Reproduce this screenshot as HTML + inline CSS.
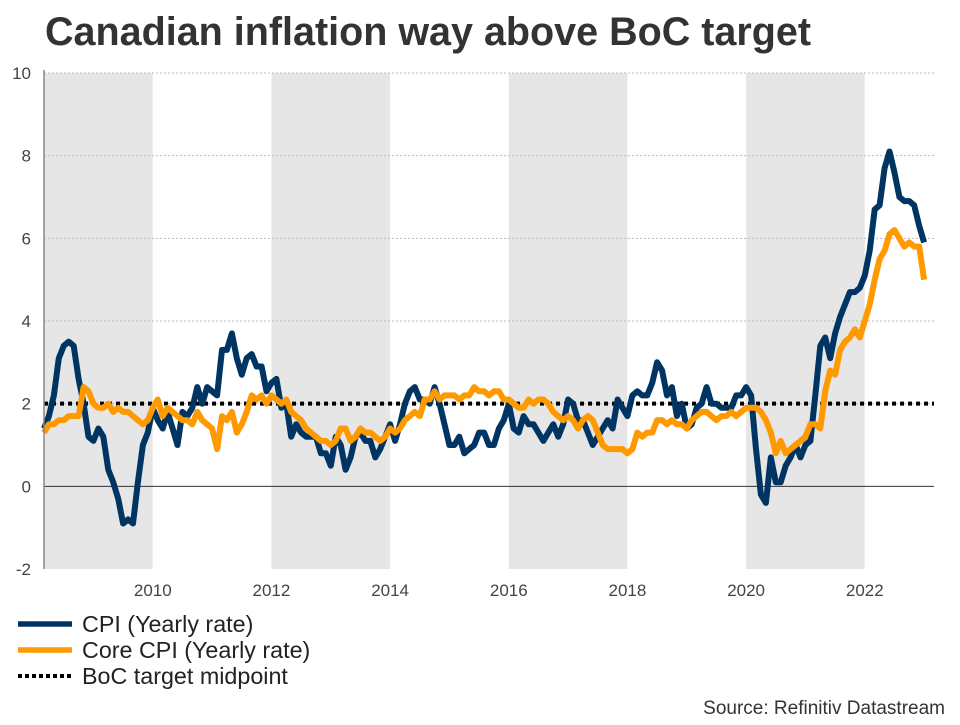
<!DOCTYPE html>
<html><head><meta charset="utf-8"><style>
body{margin:0;background:#fff;font-family:"Liberation Sans",Arial,sans-serif}
svg text{font-family:"Liberation Sans",Arial,sans-serif}
</style></head><body>
<svg id="c" width="960" height="720" viewBox="0 0 960 720" xmlns="http://www.w3.org/2000/svg">
<text x="45" y="45" font-size="39.5" font-weight="bold" fill="#333">Canadian inflation way above BoC target</text>
<g id="bands"></g><g id="grid"></g><g id="series"></g><g id="axes"></g>
<g>
<line x1="18" y1="624" x2="72" y2="624" stroke="#003463" stroke-width="5.5"/>
<text x="82" y="632" font-size="23.3" fill="#222">CPI (Yearly rate)</text>
<line x1="18" y1="650" x2="72" y2="650" stroke="#ff9900" stroke-width="5.5"/>
<text x="82" y="658" font-size="23.3" fill="#222">Core CPI (Yearly rate)</text>
<line x1="18" y1="676" x2="72" y2="676" stroke="#000" stroke-width="4" stroke-dasharray="4,3"/>
<text x="82" y="684" font-size="23.3" fill="#222">BoC target midpoint</text>
</g>
<text x="945" y="714" font-size="19" fill="#333" text-anchor="end">Source: Refinitiv Datastream</text>
</svg>
<script>
const startYear = 2008 + 2/12; // Mar 2008
const cpi = [1.4,1.7,2.2,3.1,3.4,3.5,3.4,2.6,2.0,1.2,
1.1,1.4,1.2,0.4,0.1,-0.3,-0.9,-0.8,-0.9,0.1,1.0,1.3,
1.9,1.6,1.4,1.8,1.4,1.0,1.8,1.7,1.9,2.4,2.0,2.4,
2.3,2.2,3.3,3.3,3.7,3.1,2.7,3.1,3.2,2.9,2.9,2.3,
2.5,2.6,1.9,2.0,1.2,1.5,1.3,1.2,1.2,1.2,0.8,0.8,
0.5,1.2,1.0,0.4,0.7,1.2,1.3,1.1,1.1,0.7,0.9,1.2,
1.5,1.1,1.5,2.0,2.3,2.4,2.1,2.1,2.0,2.4,2.0,1.5,
1.0,1.0,1.2,0.8,0.9,1.0,1.3,1.3,1.0,1.0,1.4,1.6,
2.0,1.4,1.3,1.7,1.5,1.5,1.3,1.1,1.3,1.5,1.2,1.5,
2.1,2.0,1.6,1.6,1.3,1.0,1.2,1.4,1.6,1.4,2.1,1.9,
1.7,2.2,2.3,2.2,2.2,2.5,3.0,2.8,2.2,2.4,1.7,2.0,
1.4,1.5,1.9,2.0,2.4,2.0,2.0,1.9,1.9,1.9,2.2,2.2,
2.4,2.2,0.9,-0.2,-0.4,0.7,0.1,0.1,0.5,0.7,1.0,0.7,
1.0,1.1,2.2,3.4,3.6,3.1,3.7,4.1,4.4,4.7,4.7,4.8,
5.1,5.7,6.7,6.8,7.7,8.1,7.6,7.0,6.9,6.9,6.8,6.3,
5.9];
const core = [1.3,1.5,1.5,1.6,1.6,1.7,1.7,1.7,2.4,2.3,
2.0,1.9,1.9,2.0,1.8,1.9,1.8,1.8,1.7,1.6,1.5,1.6,
1.9,2.1,1.7,1.9,1.8,1.7,1.6,1.6,1.5,1.8,1.6,1.5,
1.4,0.9,1.7,1.6,1.8,1.3,1.5,1.8,2.2,2.1,2.2,2.0,
2.2,2.1,2.0,2.1,1.8,1.7,1.6,1.4,1.3,1.2,1.1,1.1,
1.0,1.1,1.4,1.4,1.1,1.2,1.4,1.3,1.3,1.2,1.1,1.2,
1.4,1.3,1.4,1.6,1.7,1.8,1.7,2.1,2.1,2.3,2.1,2.2,
2.2,2.2,2.1,2.2,2.2,2.4,2.3,2.3,2.2,2.3,2.3,2.1,
2.1,2.0,1.9,1.9,2.1,2.0,2.1,2.1,2.0,1.8,1.7,1.6,
1.7,1.6,1.4,1.6,1.7,1.6,1.3,1.0,0.9,0.9,0.9,0.9,
0.8,0.9,1.3,1.2,1.3,1.3,1.6,1.6,1.5,1.6,1.5,1.5,
1.4,1.6,1.7,1.8,1.8,1.7,1.6,1.7,1.7,1.8,1.7,1.8,
1.9,1.9,1.9,1.8,1.6,1.3,0.8,1.1,0.8,0.9,1.0,1.1,
1.2,1.5,1.5,1.4,2.3,2.8,2.7,3.3,3.5,3.6,3.8,3.6,
4.0,4.4,5.0,5.5,5.7,6.1,6.2,6.0,5.8,5.9,5.8,5.8,
5.0];
const target = 2;
const yTicks = [-2,0,2,4,6,8,10];
const xTickYears = [2010,2012,2014,2016,2018,2020,2022];
const bandYears = [[2008,2010],[2012,2014],[2016,2018],[2020,2022]];

const X0=44,X1=934,Y0=569,Y1=73;
const xMin=2008+2/12, xMax=2023+2/12;
const x=t=>X0+(t-xMin)/(xMax-xMin)*(X1-X0);
const y=v=>Y0-(v+2)/12*(Y0-Y1);
const NS="http://www.w3.org/2000/svg";
function mk(tag,attrs,parent){const e=document.createElementNS(NS,tag);for(const k in attrs)e.setAttribute(k,attrs[k]);document.getElementById(parent).appendChild(e);return e;}

bandYears.forEach((b,i)=>{
 const a=Math.max(x(b[0]),X0);
 const e=mk('rect',{x:a,y:Y1,width:x(b[1])-a,height:Y0-Y1,fill:'#e6e6e6'},'bands');
 
 
});
yTicks.forEach(v=>{
 if(v>0){const g=mk('line',{x1:X0,x2:X1,y1:y(v),y2:y(v),stroke:'#bbb','stroke-dasharray':'2,2'},'grid');
 
 }
 const t=mk('text',{x:31,y:y(v)+6,'font-size':17,fill:'#444','text-anchor':'end'},'axes');
 t.textContent=v;
 
 
});
const z=mk('line',{x1:X0,x2:X1,y1:y(0),y2:y(0),stroke:'#333','stroke-width':1},'grid');


const ax=mk('line',{x1:X0,x2:X0,y1:Y1-3,y2:Y0,stroke:'#888','stroke-width':1.5},'axes');


xTickYears.forEach(yr=>{
 const t=mk('text',{x:x(yr),y:596,'font-size':17,fill:'#444','text-anchor':'middle'},'axes');
 t.textContent=yr;
 
 
});
function path(arr){return arr.map((v,i)=>(i?'L':'M')+x(startYear+i/12).toFixed(1)+','+y(v).toFixed(1)).join('');}
const tl=mk('line',{x1:X0,x2:X1,y1:y(target),y2:y(target),stroke:'#000','stroke-width':4,'stroke-dasharray':'4,4'},'series');


const c1=mk('path',{d:path(cpi),fill:'none',stroke:'#003463','stroke-width':6,'stroke-linejoin':'round'},'series');


const c2=mk('path',{d:path(core),fill:'none',stroke:'#ff9900','stroke-width':6,'stroke-linejoin':'round'},'series');


</script>
</body></html>
